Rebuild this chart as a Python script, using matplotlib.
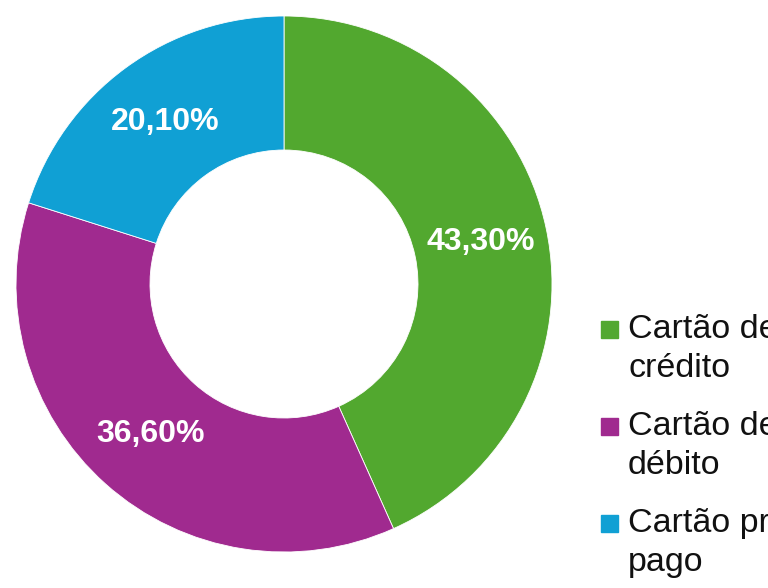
import numpy as np
import matplotlib.pyplot as plt
from matplotlib.patches import Rectangle

# payment method shares (%)
labels = ['Cartão de\ncrédito', 'Cartão de\ndébito', 'Cartão pré-\npago']
shares = [43.3, 36.6, 20.1]
pct_text = ['43,30%', '36,60%', '20,10%']
colors = ['#52a82f', '#a02a8f', '#10a0d4']

plt.rcParams['font.family'] = ['Liberation Sans', 'DejaVu Sans']

fig = plt.figure(figsize=(7.68, 5.88), dpi=100)
ax = fig.add_axes([0, 0, 1, 1])

wedges, _ = ax.pie(shares, colors=colors, startangle=90, counterclock=False,
                   center=(284, 304), radius=268, frame=True,
                   wedgeprops=dict(width=134, edgecolor='white', linewidth=0.6))
ax.set_xlim(0, 768)
ax.set_ylim(0, 588)
ax.set_aspect('equal')
ax.axis('off')

# percentage labels in the middle of the ring
for w, t in zip(wedges, pct_text):
    ang = np.deg2rad((w.theta1 + w.theta2) / 2)
    r = 201
    ax.text(284 + r * np.cos(ang), 304 + r * np.sin(ang), t,
            ha='center', va='center', color='white', fontsize=23,
            fontweight='bold')

# legend drawn by hand so the square sits on the first line
# (the reference cuts the labels off at the right edge)
for i, (lab, col) in enumerate(zip(labels, colors)):
    y = 321 + i * 97
    fig.patches.append(Rectangle((601, 588 - y - 17), 17, 17, color=col,
                                 transform=None, figure=fig))
    fig.text(628 / 768, 1 - (y - 7) / 588, lab, ha='left', va='top',
             fontsize=24.5, color='#111111', linespacing=1.34)

fig.savefig('out.png', dpi=100)
